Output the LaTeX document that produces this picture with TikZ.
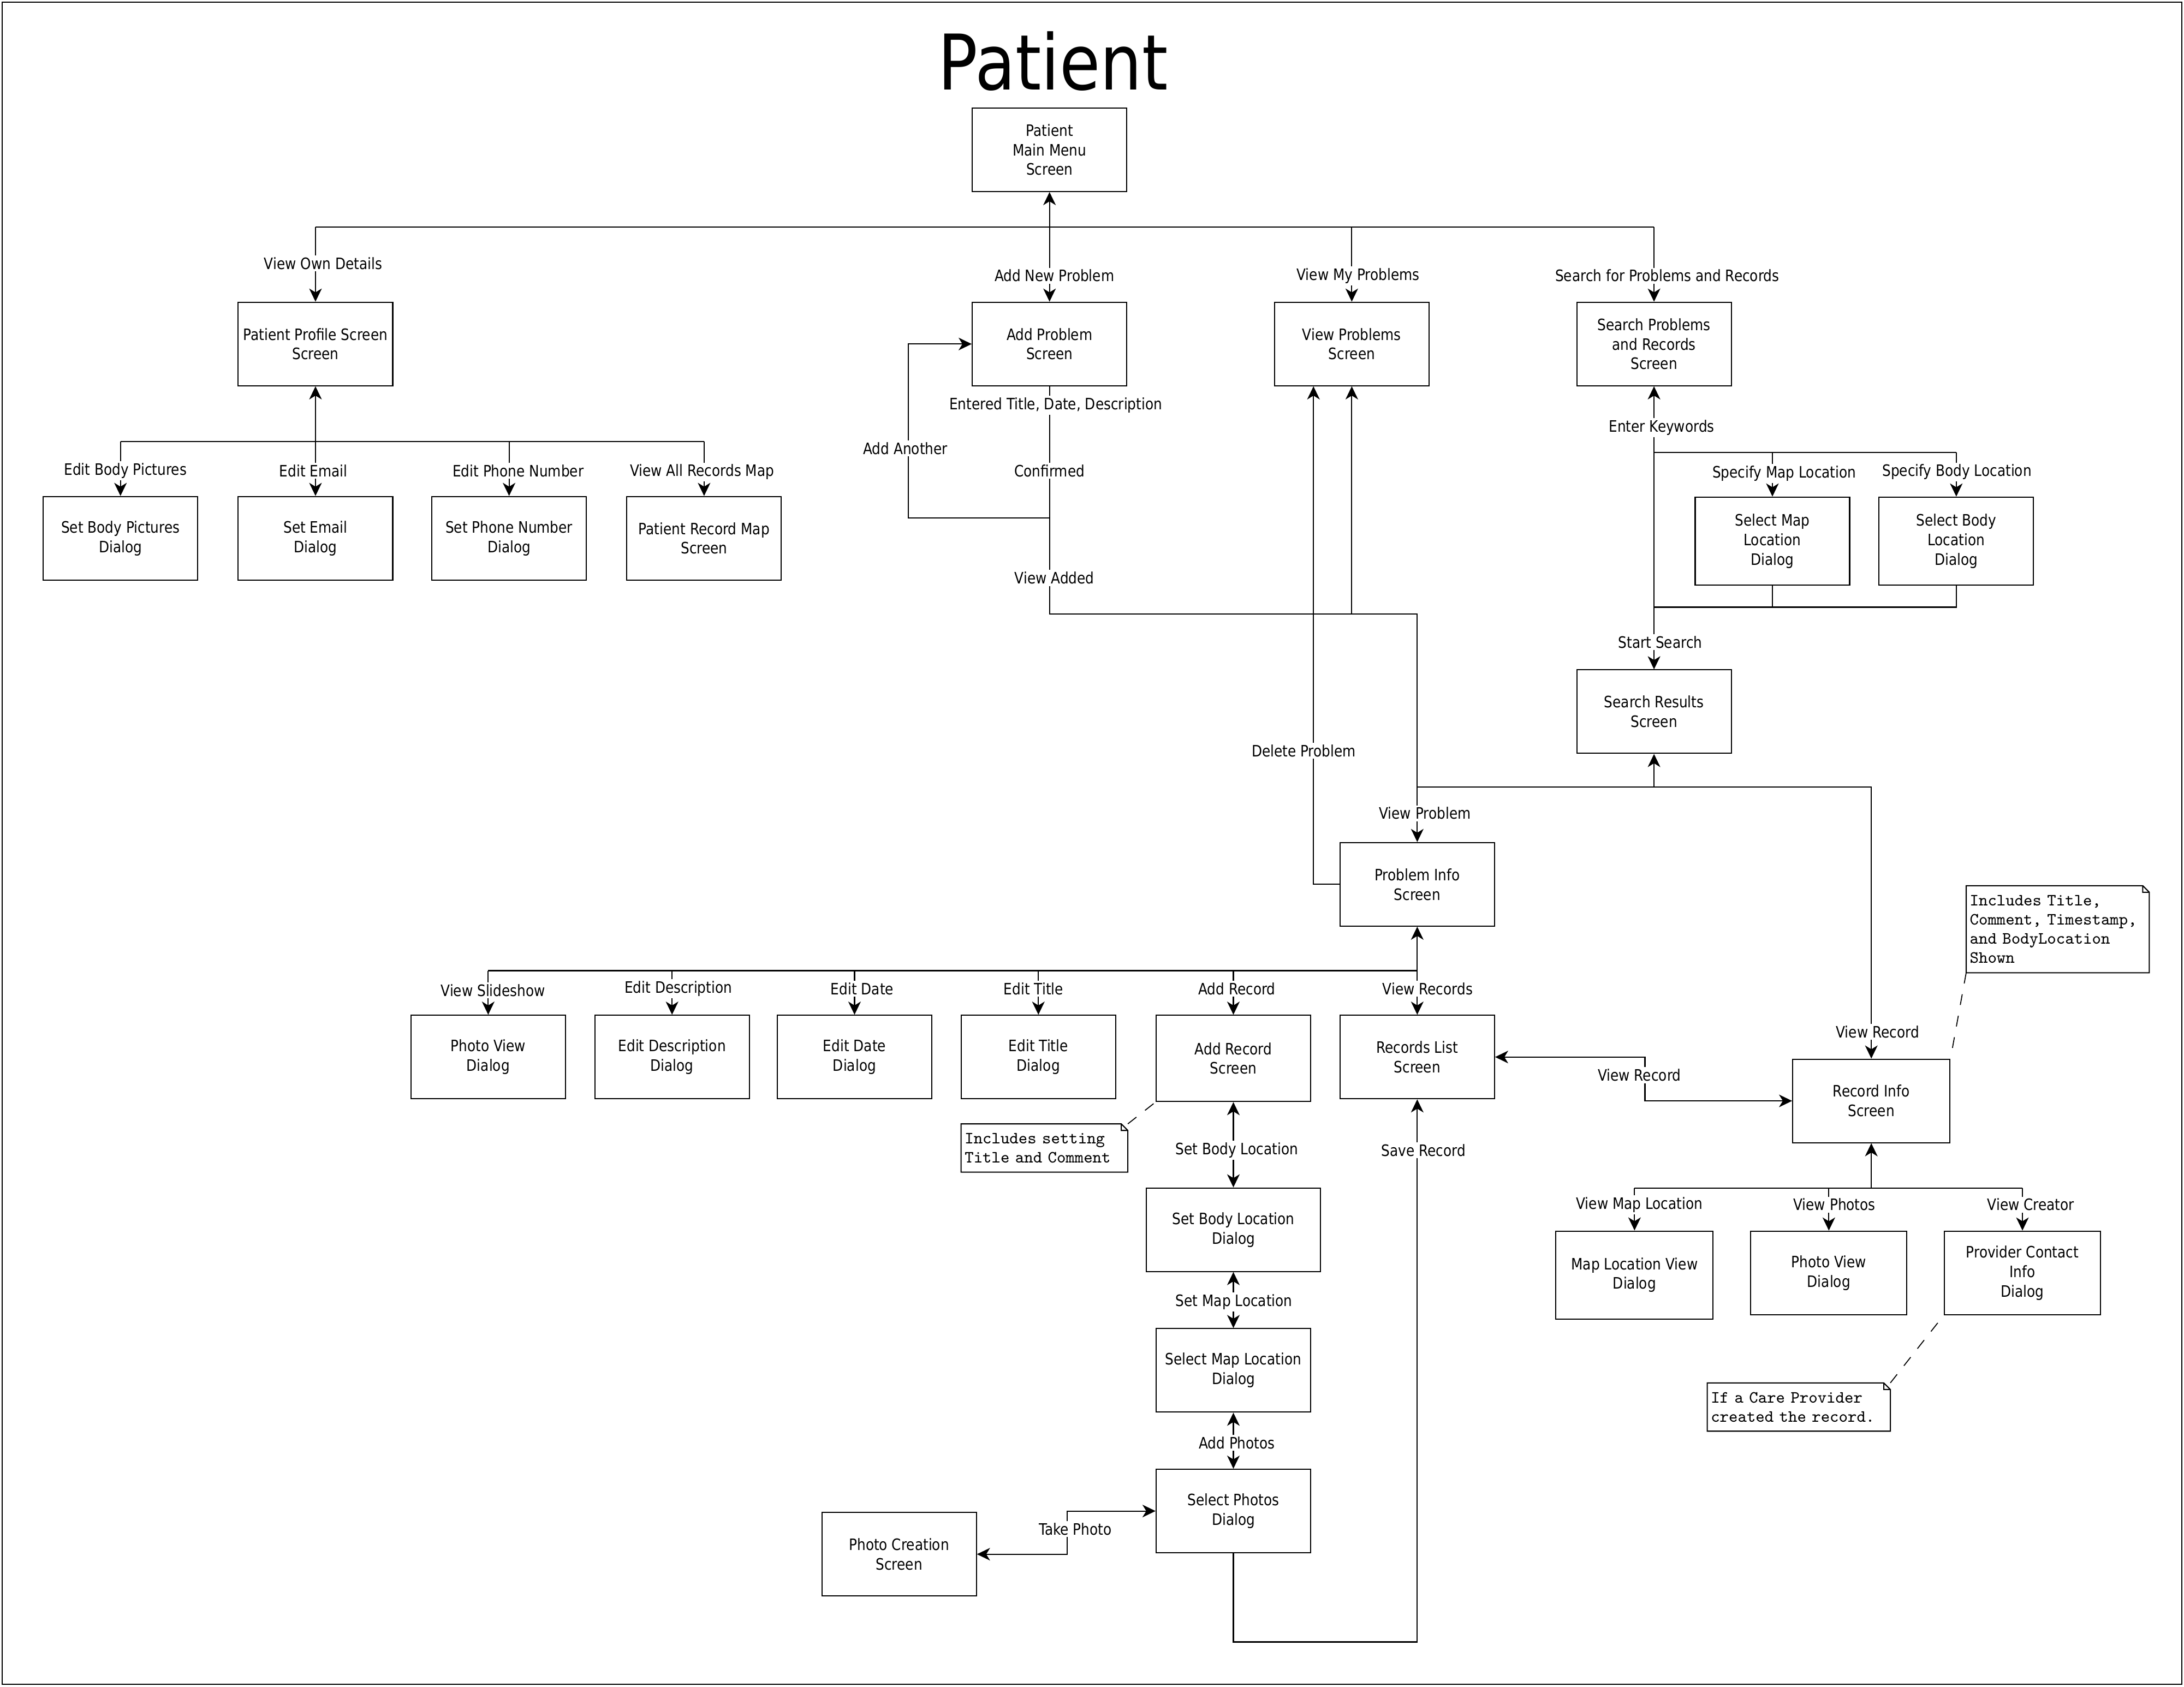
\documentclass[tikz,border=0pt]{standalone}
\usepackage{fontspec}
\usetikzlibrary{arrows.meta}
\newfontfamily\uiface[FakeStretch=0.86]{DejaVu Sans}
\newcommand\uifont{\uiface\fontsize{8.2}{10.2}\selectfont}
\newcommand\notefont{\ttfamily\fontsize{8.9}{10}\selectfont}
\newcommand\bigfont{\uiface\fontsize{40}{48}\selectfont}
\tikzset{
  screen/.style={draw, line width=0.6pt, minimum width=2.83cm, minimum height=1.53cm,
    inner sep=1pt, align=center, font=\uifont},
  tall/.style={minimum height=1.61cm},
  lbl/.style={fill=white, inner sep=1pt, font=\uifont},
  memo/.style={anchor=north west, inner xsep=0.06cm, inner ysep=0pt, align=left, font=\notefont},
  wire/.style={line width=0.6pt},
  nav/.style={line width=0.6pt, ->},
  both/.style={line width=0.6pt, <->},
  hint/.style={line width=0.5pt, dash pattern=on 2mm off 2mm}
}
\begin{document}
\begin{tikzpicture}[x=0.025517cm, y=-0.025517cm, >={Stealth[length=2.4mm,width=2.3mm,inset=0.7mm]}]
\useasboundingbox (0,0) rectangle (1568,1211);
\draw[wire] (1.5,1.5) rectangle (1566.5,1209.5);
\node[font=\bigfont] (title) at (756,44) {Patient};

% screens and dialogs
\node[screen] (menu) at (753.5,107.5) {Patient\\Main Menu\\Screen};
\node[screen] (profile) at (226.5,247) {Patient Profile Screen\\Screen};
\node[screen] (addprob) at (753.5,247) {Add Problem\\Screen};
\node[screen] (viewprob) at (970.5,247) {View Problems\\Screen};
\node[screen] (search) at (1187.5,247) {Search Problems\\and Records\\Screen};
\node[screen] (bodypic) at (86.5,386.5) {Set Body Pictures\\Dialog};
\node[screen] (email) at (226.5,386.5) {Set Email\\Dialog};
\node[screen] (phone) at (365.5,386.5) {Set Phone Number\\Dialog};
\node[screen] (recmap) at (505.5,386.5) {Patient Record Map\\Screen};
\node[screen, tall] (maploc) at (1272.5,388.5) {Select Map\\Location\\Dialog};
\node[screen, tall] (bodyloc) at (1404.5,388.5) {Select Body\\Location\\Dialog};
\node[screen] (results) at (1187.5,511) {Search Results\\Screen};
\node[screen] (probinfo) at (1017.5,635) {Problem Info\\Screen};
\node[screen] (slides) at (350.5,759) {Photo View\\Dialog};
\node[screen] (editdesc) at (482.5,759) {Edit Description\\Dialog};
\node[screen] (editdate) at (613.5,759) {Edit Date\\Dialog};
\node[screen] (edittitle) at (745.5,759) {Edit Title\\Dialog};
\node[screen, minimum height=1.58cm] (addrec) at (885.5,760) {Add Record\\Screen};
\node[screen] (reclist) at (1017.5,759) {Records List\\Screen};
\node[screen, minimum width=2.88cm] (recinfo) at (1343.5,790.5) {Record Info\\Screen};
\node[screen, minimum width=3.19cm] (bodyset) at (885.5,883) {Set Body Location\\Dialog};
\node[screen] (mapsel) at (885.5,984) {Select Map Location\\Dialog};
\node[screen] (photosel) at (885.5,1085) {Select Photos\\Dialog};
\node[screen] (photonew) at (645.5,1116) {Photo Creation\\Screen};
\node[screen, tall, minimum width=2.88cm] (mapview) at (1173.5,915.5) {Map Location View\\Dialog};
\node[screen, minimum width=2.86cm] (photos) at (1313,914) {Photo View\\Dialog};
\node[screen, minimum width=2.86cm] (contact) at (1452,914) {Provider Contact\\Info\\Dialog};

% main menu
\coordinate (mbus) at (753.5,163);
\draw[wire] (mbus -| profile.north) -- (mbus -| search.north);
\draw[nav] (mbus) -- (menu.south);
\foreach \n in {profile,addprob,viewprob,search}
  \draw[nav] (mbus -| \n.north) -- (\n.north);

% profile
\coordinate (pbus) at (226.5,317);
\draw[wire] (pbus -| bodypic.north) -- (pbus -| recmap.north);
\draw[nav] (pbus) -- (profile.south);
\foreach \n in {bodypic,email,phone,recmap}
  \draw[nav] (pbus -| \n.north) -- (\n.north);

% problems
\coordinate (confirm) at (753.5,372);
\coordinate (again) at (652,372);
\coordinate (added) at (753.5,441);
\coordinate (del) at (943,635);
\draw[nav] (addprob.south) -- (added) -| (probinfo.north);
\draw[nav] (confirm) -- (again) |- (addprob.west);
\draw[nav] (added -| viewprob.south) -- (viewprob.south);
\draw[nav] (probinfo.west) -- (del) -- (del |- viewprob.south);

% search
\coordinate (kbus) at (1187.5,325);
\coordinate (sbus) at (1187.5,436);
\coordinate (rbus) at (1187.5,565);
\draw[nav] (kbus) -- (search.south);
\draw[nav] (kbus) -- (results.north);
\draw[wire] (kbus) -- (kbus -| bodyloc.north);
\foreach \n in {maploc,bodyloc}
  \draw[nav] (kbus -| \n.north) -- (\n.north);
\draw[wire] (maploc.south) -- (sbus -| maploc.south);
\draw[wire] (bodyloc.south) |- (sbus);
\draw[nav] (rbus) -- (results.south);
\draw[nav] (rbus -| probinfo.north) -| (recinfo.north);

% problem info
\coordinate (ibus) at (1017.5,697);
\draw[wire] (ibus -| slides.north) -- (ibus);
\draw[nav] (ibus) -- (probinfo.south);
\foreach \n in {slides,editdesc,editdate,edittitle,addrec,reclist}
  \draw[nav] (ibus -| \n.north) -- (\n.north);

% records
\coordinate (vbend) at (1181,775);
\coordinate (cbus) at (1343.5,853);
\draw[both] (reclist.east) -- (reclist.east -| vbend) |- (recinfo.west);
\draw[wire] (cbus -| mapview.north) -- (cbus -| contact.north);
\draw[nav] (cbus) -- (recinfo.south);
\foreach \n in {mapview,photos,contact}
  \draw[nav] (cbus -| \n.north) -- (\n.north);

% add record
\coordinate (tbend) at (766,1100);
\coordinate (sbend) at (885.5,1179);
\draw[both] (addrec.south) -- (bodyset.north);
\draw[both] (bodyset.south) -- (mapsel.north);
\draw[both] (mapsel.south) -- (photosel.north);
\draw[both] (photosel.west) -- (photosel.west -| tbend) |- (photonew.east);
\draw[nav] (photosel.south) -- (sbend) -| (reclist.south);

% notes
\node[memo, text width=2.92cm, minimum height=0.87cm] (note1) at (690,807) {Includes setting\\Title and Comment};
\node[memo, text width=3.22cm, minimum height=1.58cm] (note2) at (1411.6,636) {Includes Title,\\Comment, Timestamp,\\and BodyLocation\\Shown};
\node[memo, text width=3.22cm, minimum height=0.87cm] (note3) at (1225.7,993) {If a Care Provider\\created the record.};
\foreach \m in {note1,note2,note3}
  \draw[wire] (\m.north west) -- ([xshift=-1.2mm]\m.north east) -- ([yshift=-1.2mm]\m.north east)
    -- (\m.south east) -- (\m.south west) -- cycle
    ([xshift=-1.2mm]\m.north east) |- ([yshift=-1.2mm]\m.north east);
\draw[hint] (note1.north east) -- (addrec.south west);
\draw[hint] (note2.south west) -- (recinfo.north east);
\draw[hint] (note3.north east) -- (contact.south west);

% labels
\node[lbl] (lown) at (232,189) {View Own Details};
\node[lbl] (lnew) at (757,198) {Add New Problem};
\node[lbl] (lmine) at (975,198) {View My Problems};
\node[lbl] (lfind) at (1197,198) {Search for Problems and Records};
\node[lbl] (lpics) at (90,338) {Edit Body Pictures};
\node[lbl] (lmail) at (225,338) {Edit Email};
\node[lbl] (lphone) at (372,338) {Edit Phone Number};
\node[lbl] (lmap) at (504,339) {View All Records Map};
\node[lbl] (lentered) at (758,291) {Entered Title, Date, Description};
\node[lbl] (lconf) at (753.5,338) {Confirmed};
\node[lbl] (lagain) at (650,322) {Add Another};
\node[lbl] (ladded) at (757,415) {View Added};
\node[lbl] (lkeys) at (1193,307) {Enter Keywords};
\node[lbl] (lspmap) at (1281,340) {Specify Map Location};
\node[lbl] (lspbody) at (1405,339) {Specify Body Location};
\node[lbl] (lstart) at (1192,461) {Start Search};
\node[lbl] (ldel) at (936,539) {Delete Problem};
\node[lbl] (lprob) at (1023,584) {View Problem};
\node[lbl] (lslide) at (354,711) {View Slideshow};
\node[lbl] (ldesc) at (487,710) {Edit Description};
\node[lbl] (ldate) at (619,710) {Edit Date};
\node[lbl] (ltitle) at (742,710) {Edit Title};
\node[lbl] (lrec) at (888,710) {Add Record};
\node[lbl] (lrecs) at (1025,710) {View Records};
\node[lbl] (lvrec) at (1177,772) {View Record};
\node[lbl] (lvrec2) at (1348,741) {View Record};
\node[lbl] (lbody) at (888,826) {Set Body Location};
\node[lbl] (lsave) at (1022,826) {Save Record};
\node[lbl] (lsetmap) at (886,935) {Set Map Location};
\node[lbl] (lphotos) at (888,1036) {Add Photos};
\node[lbl] (ltake) at (772,1098) {Take Photo};
\node[lbl] (lvmap) at (1177,865) {View Map Location};
\node[lbl] (lvphotos) at (1317,865) {View Photos};
\node[lbl] (lcreator) at (1458,865) {View Creator};
\end{tikzpicture}
\end{document}
